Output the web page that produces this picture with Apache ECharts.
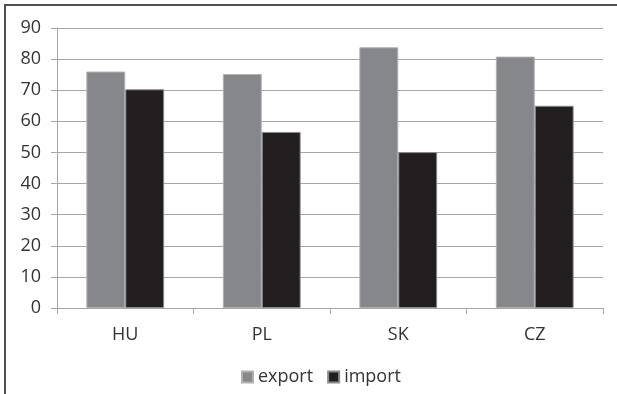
<!DOCTYPE html>
<html>
<head>
<meta charset="utf-8">
<script src="https://cdn.jsdelivr.net/npm/echarts@6/dist/echarts.min.js"></script>
<style>
html,body{margin:0;padding:0;background:#fff;}
#chart{width:617px;height:394px;}
</style>
</head>
<body>
<div id="chart"></div>
<script>
const categories = ['HU', 'PL', 'SK', 'CZ'];
const exportValues = [76, 75.2, 83.8, 80.8];
const importValues = [70.3, 56.6, 50.1, 65];
const seriesNames = ['export', 'import'];

const chart = echarts.init(document.getElementById('chart'), null, {renderer: 'canvas'});
const font = '"Open Sans", "Liberation Sans", sans-serif';
chart.setOption({
  animation: false,
  backgroundColor: '#fff',
  graphic: [{
    type: 'rect',
    shape: {x: 5, y: 5, width: 700, height: 500},
    style: {fill: 'none', stroke: '#505050', lineWidth: 2},
    silent: true,
    z: -1
  }],
  grid: {left: 57, right: 14, top: 28, bottom: 86, containLabel: false},
  legend: {
    data: seriesNames,
    top: 363,
    left: 236,
    itemWidth: 11,
    itemHeight: 11,
    itemGap: 14,
    icon: 'rect',
    textStyle: {fontFamily: font, fontSize: 18, color: '#333'}
  },
  xAxis: {
    type: 'category',
    data: categories,
    axisLine: {lineStyle: {color: '#a6a6a6', width: 1}},
    axisTick: {show: true, length: 6, lineStyle: {color: '#a6a6a6'}},
    axisLabel: {fontFamily: font, fontSize: 18, color: '#333', margin: 18},
    splitLine: {show: false}
  },
  yAxis: {
    type: 'value',
    min: 0,
    max: 90,
    interval: 10,
    axisLine: {show: true, lineStyle: {color: '#a6a6a6'}},
    axisTick: {show: true, length: 6, lineStyle: {color: '#a6a6a6'}},
    axisLabel: {fontFamily: font, fontSize: 18, color: '#333', margin: 16},
    splitLine: {lineStyle: {color: '#a6a6a6', width: 1}}
  },
  series: [
    {
      name: seriesNames[0],
      type: 'bar',
      data: exportValues,
      barGap: '0%',
      barCategoryGap: '43%',
      itemStyle: {color: '#86878b', borderColor: '#b0b0b0', borderWidth: 1}
    },
    {
      name: seriesNames[1],
      type: 'bar',
      data: importValues,
      itemStyle: {color: '#231f20', borderColor: '#8a8a8a', borderWidth: 1}
    }
  ]
});
</script>
</body>
</html>
